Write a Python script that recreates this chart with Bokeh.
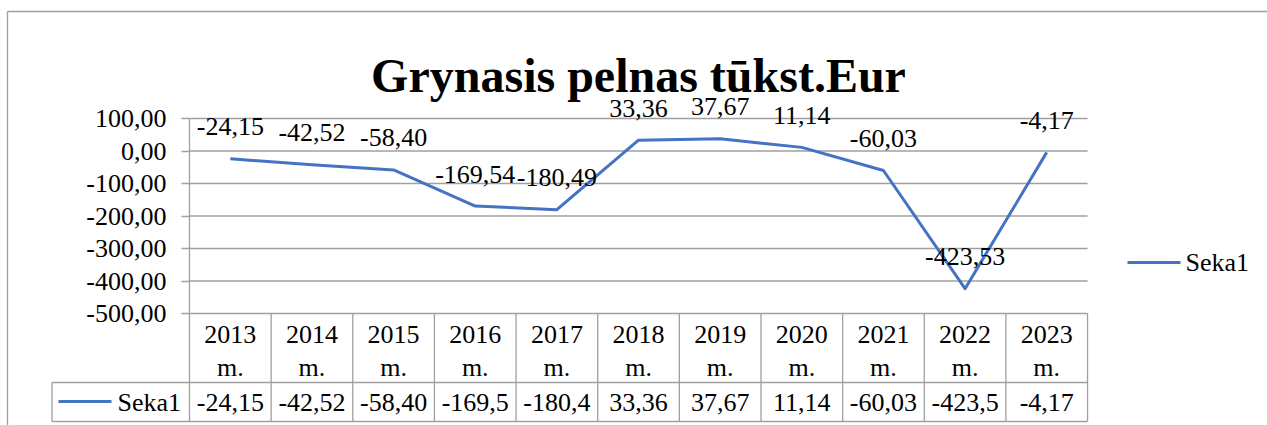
from bokeh.plotting import figure
from bokeh.models import LinearAxis, FixedTicker, CustomJSTickFormatter, Range1d
from bokeh.core.properties import value
from bokeh.embed import file_html
from bokeh.resources import INLINE

# ---- data ----
title_text = "Grynasis pelnas tūkst.Eur"
series_name = "Seka1"
years = ["2013", "2014", "2015", "2016", "2017", "2018", "2019", "2020", "2021", "2022", "2023"]
year_suffix = "m."
profit = [-24.15, -42.52, -58.40, -169.54, -180.49, 33.36, 37.67, 11.14, -60.03, -423.53, -4.17]
y_ticks = [100, 0, -100, -200, -300, -400, -500]

# ---- layout constants (canvas pixels) ----
W, H = 1267, 425
LEFT = 189.0        # plot-area left edge
CAT_W = 81.64       # width of one category
TOP = 118.0         # canvas y of the top tick
PX_PER_UNIT = 0.325
Y_MAX = max(y_ticks)
Y_MIN = min(y_ticks)
N = len(years)

FAMILY = "Liberation Serif"
FONT = value(FAMILY)
GRID = "#a0a0a0"
BLUE = "#4472c4"


def xd(px):
    return (px - LEFT) / CAT_W


def yd(py):
    return Y_MAX - (py - TOP) / PX_PER_UNIT


def fmt(v):
    return f"{v:.2f}".replace(".", ",")


p = figure(width=W, height=H,
           x_range=Range1d(xd(0), xd(W)), y_range=Range1d(yd(H), yd(0)),
           output_backend="svg", toolbar_location=None,
           x_axis_type=None, y_axis_type=None, min_border=0)
p.outline_line_color = None
p.background_fill_color = "white"
p.border_fill_color = "white"

# outer chart border (top and left visible)
p.segment(x0=[xd(7), xd(7)], y0=[yd(11), yd(11)], x1=[xd(W), xd(7)], y1=[yd(11), yd(H)],
          line_color=GRID, line_width=1.3)

# title
p.text(x=[N / 2], y=[yd(75)], text=[title_text], text_font=FONT, text_font_size="48px",
       text_font_style="bold", text_align="center", text_baseline="alphabetic", text_color="black")

# horizontal grid lines
p.segment(x0=[0] * len(y_ticks), y0=y_ticks, x1=[N] * len(y_ticks), y1=y_ticks,
          line_color=GRID, line_width=1.3)

# y axis
yaxis = LinearAxis(fixed_location=0, bounds=(Y_MIN, Y_MAX),
                   ticker=FixedTicker(ticks=y_ticks, minor_ticks=[]),
                   formatter=CustomJSTickFormatter(code="return tick.toFixed(2).replace('.', ',');"))
yaxis.axis_line_color = GRID
yaxis.axis_line_width = 1.3
yaxis.major_tick_line_color = GRID
yaxis.major_tick_line_width = 1.3
yaxis.major_tick_out = 8
yaxis.major_tick_in = 0
yaxis.minor_tick_out = 0
yaxis.minor_tick_in = 0
yaxis.major_label_text_font = FAMILY
yaxis.major_label_text_font_style = "normal"
yaxis.major_label_text_font_size = "26px"
yaxis.major_label_text_color = "black"
yaxis.major_label_standoff = 15
p.add_layout(yaxis, "left")

# series line
xs = [i + 0.5 for i in range(N)]
p.line(xs, profit, line_color=BLUE, line_width=3, line_join="round")

TXT = dict(text_font=FONT, text_font_size="26px", text_font_style="normal", text_color="black",
           text_baseline="middle")

# data labels
p.text(x=xs, y=profit, text=[fmt(v) for v in profit], y_offset=-32, text_align="center", **TXT)

# legend on the right
p.line([xd(1127), xd(1180)], [yd(262), yd(262)], line_color=BLUE, line_width=3)
p.text(x=[xd(1185)], y=[yd(262)], text=[series_name], text_align="left", **TXT)

# ---- data table ----
row1 = yd(382)
row2 = yd(421)
cell_left = xd(51.5)
# verticals between categories
p.segment(x0=list(range(N + 1)), y0=[Y_MIN] * (N + 1), x1=list(range(N + 1)), y1=[row2] * (N + 1),
          line_color=GRID, line_width=1.3)
# legend-cell left edge
p.segment(x0=[cell_left], y0=[row1], x1=[cell_left], y1=[row2], line_color=GRID, line_width=1.3)
# horizontals
p.segment(x0=[cell_left, cell_left], y0=[row1, row2], x1=[N, N], y1=[row1, row2],
          line_color=GRID, line_width=1.3)

p.text(x=xs, y=[yd(334)] * N, text=years, text_align="center", **TXT)
p.text(x=xs, y=[yd(367)] * N, text=[year_suffix] * N, text_align="center", **TXT)
p.text(x=xs, y=[yd(402)] * N, text=[fmt(v)[:6] for v in profit], text_align="center", **TXT)

# legend key in table
p.line([xd(58), xd(111)], [yd(401), yd(401)], line_color=BLUE, line_width=3)
p.text(x=[xd(117)], y=[yd(402)], text=[series_name], text_align="left", **TXT)

open("out.html", "w").write(file_html(p, INLINE))
